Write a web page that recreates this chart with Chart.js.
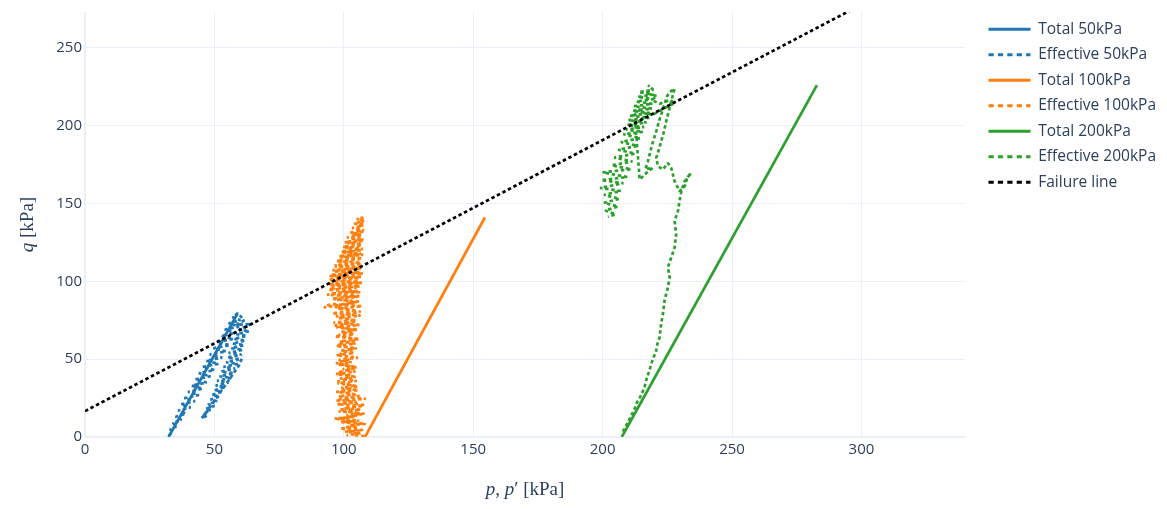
<!DOCTYPE html>
<html>
<head>
<meta charset="utf-8">
<title>Stress paths</title>
<script src="https://cdn.jsdelivr.net/npm/chart.js@4.4.1/dist/chart.umd.min.js"></script>
<style>
  html, body { margin: 0; padding: 0; background: #fff; }
  #wrap { width: 1167px; height: 509px; position: relative; }
</style>
</head>
<body>
<div id="wrap"><canvas id="chart"></canvas></div>
<script>
// Axis ticks
const pTicks = [0, 50, 100, 150, 200, 250, 300];
const qTicks = [0, 50, 100, 150, 200, 250];

// Total stress paths (p, q)
const total50P = [32.3, 59.0];
const total50Q = [0, 79.5];
const total100P = [108.2, 154.5];
const total100Q = [0, 141];
const total200P = [207.4, 282.8];
const total200Q = [0, 226];

// Effective stress paths
const eff50P = [32.3, 33.8, 32.9, 35.6, 33.9, 37.3, 35.0, 39.0, 36.0, 40.8, 37.0, 42.5, 38.4, 44.0, 39.8, 45.5,
  41.2, 47.0, 42.6, 48.5, 44.0, 50.0, 45.4, 51.5, 46.8, 53.0, 48.2, 54.5, 49.6, 56.0, 51.0, 57.3,
  52.6, 58.5, 54.0, 59.5, 55.5, 60.0, 57.0, 59.0,
  61.5, 58.5, 64.4, 59.5, 63.5, 58.5, 62.5, 57.5, 62.0, 57.0, 61.5, 56.5, 61.0, 55.5, 60.5, 55.0,
  60.0, 54.5, 59.0, 53.5, 58.0, 52.5, 57.5, 52.0, 56.5, 51.0, 55.5, 50.5, 54.0, 50.0, 53.0, 49.0,
  52.0, 48.5, 51.0, 47.5, 50.0, 46.5, 48.5, 45.5, 47.5, 45.0,
  47.0, 49.5, 52.0, 54.5, 57.0, 59.5, 61.0];
const eff50Q = [1, 3, 5, 7, 9, 11, 13, 15, 17, 19, 21, 23, 25, 27, 29, 31,
  33, 35, 37, 39, 41, 43, 45, 47, 49, 51, 53, 55, 57, 59, 61, 63,
  65, 67, 69, 71, 73, 75, 77, 79.5,
  75, 72, 72.7, 69, 68, 66, 65, 63, 62, 60, 59, 57, 56, 54, 53, 51,
  50, 48, 47, 45, 44, 42, 41, 39, 38, 36, 35, 33, 32, 30, 29, 27,
  26, 24, 23, 21, 20, 18, 17, 15, 14, 12,
  16, 22, 28, 34, 40, 46, 52];

const eff100P = [108.0, 103.0, 106.5, 100.5, 107.5, 98.5, 105.0, 102.0, 108.5, 99.0, 106.0, 96.5, 104.5, 101.0, 108.0,
  98.0, 106.5, 100.0, 107.5, 97.5, 105.0, 99.5, 108.5, 98.0, 104.0, 97.0, 105.5, 99.0, 104.0, 97.5,
  105.0, 98.5, 103.5, 97.0, 104.5, 99.5, 105.0, 97.5, 103.0, 98.0, 105.5, 97.0, 104.0, 99.0, 105.0,
  97.0, 104.5, 98.5, 106.0, 96.5, 104.0, 99.0, 105.5, 97.0, 106.0, 96.0, 104.5, 98.0, 106.5, 95.5,
  105.0, 97.5, 107.0, 95.0, 92.3, 106.0,
  96.0, 105.5, 93.5, 106.5, 94.0, 105.0, 94.5, 107.0, 95.0, 106.0, 94.5, 107.5, 96.0, 106.5, 96.5,
  107.0, 97.5, 106.0, 98.5, 107.5, 99.5, 106.5, 100.5, 107.0, 101.5, 107.5, 102.5, 106.5, 103.5, 107.5,
  104.5, 107.0, 105.5, 108.0, 106.5, 107.5,
  105.0, 107.8, 104.0, 107.5, 103.2, 107.8, 102.2, 107.2, 101.2, 107.6, 100.4, 107.0, 99.6, 107.4, 98.8,
  106.8, 98.0, 107.2, 97.2, 106.6, 96.4, 107.0, 95.6, 106.4, 95.0, 106.8, 94.2, 105.8, 93.8, 106.2,
  94.4, 105.4, 95.0, 106.0, 95.5,
  104.5, 96.5, 106.5, 97.0, 105.0, 96.5, 104.0, 98.0, 105.5, 97.5, 104.0, 98.5, 103.5, 97.0, 105.0,
  98.0, 104.5, 97.5, 105.5, 98.5, 106.0, 97.0, 108.0, 98.5, 107.0, 97.5, 106.5, 99.5, 105.0, 101.0];
const eff100Q = [0.5, 1.5, 2.5, 3.5, 4.5, 5.5, 6.5, 7.5, 8.5, 9.5, 10.5, 12.0, 13.0, 14.0, 15.0,
  16.5, 17.5, 18.5, 20.0, 21.0, 22.5, 23.5, 24.5, 26.0, 27.5, 29.0, 30.0, 31.5, 33.0, 34.5,
  36.0, 37.5, 39.0, 40.5, 42.0, 43.5, 45.0, 46.5, 48.0, 49.5, 51.0, 52.5, 54.0, 55.5, 57.0,
  58.5, 60.0, 61.5, 63.0, 64.5, 66.0, 67.5, 69.0, 70.5, 72.0, 73.5, 75.0, 76.5, 78.0, 79.5,
  81.0, 82.5, 84.0, 85.5, 83.2, 87.0,
  88.5, 90.0, 91.5, 93.0, 94.5, 96.0, 97.5, 99.0, 100.5, 102.0, 103.5, 105.0, 106.5, 108.0, 109.5,
  111.0, 112.5, 114.0, 115.5, 117.0, 118.5, 120.0, 121.5, 123.0, 124.5, 126.0, 127.5, 129.0, 130.5, 132.0,
  133.5, 135.0, 136.5, 138.0, 139.5, 141.0,
  140.2, 138.8, 137.2, 135.8, 134.2, 132.8, 131.2, 129.8, 128.2, 126.8, 125.2, 123.8, 122.2, 120.8, 119.2,
  117.8, 116.2, 114.8, 113.2, 111.8, 110.2, 108.8, 107.2, 105.8, 104.2, 102.8, 101.2, 99.8, 98.2, 96.8,
  95.2, 93.8, 92.2, 90.5, 89.0,
  86.5, 83.5, 80.5, 77.5, 74.5, 71.5, 68.5, 65.5, 62.5, 59.5, 56.5, 53.5, 50.5, 47.5, 44.5,
  41.5, 38.5, 35.5, 32.5, 29.5, 26.5, 23.5, 20.5, 17.5, 14.5, 11.5, 8.5, 5.5, 2.5, 1.0];

const eff200P = [207.8, 209.8, 212.4, 213.2, 214.9, 216.2, 217.0, 218.1, 218.8, 220.7, 221.2, 222.0, 222.6, 223.3,
  223.9, 225.2, 225.9, 225.2, 226.5, 227.8, 228.4, 227.8, 229.1, 229.7, 230.4, 231.7, 233.6, 234.2,
  232.6, 231.7, 229.7, 228.8, 227.8, 226.5, 225.2, 223.3, 221.4,
  220.7, 221.8, 222.8, 223.8, 224.6, 225.5, 226.4, 227.8,
  225.5, 224.6, 223.4, 222.0, 220.8, 219.6, 218.5, 217.5, 216.5, 219.4, 217.5, 215.6, 214.3,
  212.4, 214.5, 216.2, 219.4, 222.6, 225.2, 227.8, 226.0, 222.0, 219.0, 221.0, 216.5, 219.5, 217.5,
  219.5, 214.0, 219.5, 213.5, 219.5, 213.0, 219.2, 212.0, 219.0, 211.5, 218.5, 210.5, 218.0, 210.0,
  217.0, 209.5, 216.0, 209.0, 215.5, 208.0, 214.5, 207.0, 213.5, 206.0, 212.5, 204.5, 211.5, 203.5,
  211.0, 200.0, 209.5, 199.5, 208.0, 199.0, 207.0, 200.5, 206.5, 200.5, 206.0, 201.0, 205.0, 202.0];
const eff200Q = [3.4, 9.5, 18.3, 22.0, 26.9, 32.2, 37.5, 42.8, 47.1, 55.6, 60.0, 64.1, 72.7, 79.1,
  87.6, 96.1, 102.5, 108.9, 115.3, 121.7, 130.2, 138.7, 145.1, 151.5, 157.9, 164.3, 168.6, 169.6,
  166.0, 161.0, 157.9, 161.0, 164.3, 172.8, 176.0, 171.8, 173.9,
  179.2, 185.0, 191.0, 197.0, 203.0, 209.0, 215.0, 223.8,
  221.0, 217.6, 211.0, 204.0, 197.0, 190.5, 184.0, 177.1, 172.0, 172.8, 170.7, 167.5, 165.4,
  207.0, 210.5, 208.0, 207.0, 210.1, 212.3, 214.4, 216.5, 214.0, 216.5, 219.0, 221.0, 223.0, 226.0,
  223.0, 221.5, 220.0, 218.5, 217.0, 215.5, 214.0, 212.5, 211.0, 209.5, 208.0, 206.5, 205.0, 203.5,
  202.0, 200.5, 199.0, 197.5, 196.0, 194.5, 192.0, 189.5, 187.0, 184.5, 182.0, 179.5, 177.0, 174.5,
  172.0, 170.0, 167.0, 165.0, 163.0, 160.0, 158.0, 155.5, 153.0, 150.5, 148.0, 145.5, 143.0, 141.5];

// Failure line end points
const failP = [0, 340];
const failQ = [16.6, 312.6];

const BLUE = '#1f77b4', ORANGE = '#ff7f0e', GREEN = '#2ca02c', BLACK = '#000000';
const TEXT = '#2a3f5f', GRID = '#ebf0f8';
const DOT = [3.5, 2.7];
const LEGEND_DOT = [5.2, 4.2];

function pts(P, Q) {
  return P.map((p, i) => ({ x: p, y: Q[i] }));
}

function series(label, P, Q, color, dashed, order) {
  return {
    label: label,
    data: pts(P, Q),
    showLine: true,
    borderColor: color,
    backgroundColor: color,
    borderWidth: 2.7,
    borderDash: dashed ? DOT : [],
    borderCapStyle: 'butt',
    borderJoinStyle: 'bevel',
    pointRadius: 0,
    pointHoverRadius: 0,
    tension: 0,
    order: order
  };
}

// Axis titles drawn with italic symbols like the LaTeX ones
const xTitleParts = [['p', true], [', ', false], ['p', true], ['\u2032 [kPa]', false]];
const yTitleParts = [['q', true], [' [kPa]', false]];

function drawParts(ctx, parts, cx, cy, rot) {
  ctx.save();
  ctx.translate(cx, cy);
  ctx.rotate(rot);
  ctx.fillStyle = TEXT;
  ctx.textBaseline = 'middle';
  const fontOf = p => (p[1] ? 'italic ' : '') + '19px "Liberation Serif", "DejaVu Serif", serif';
  let w = 0;
  parts.forEach(p => { ctx.font = fontOf(p); w += ctx.measureText(p[0]).width; });
  let x = -w / 2;
  parts.forEach(p => {
    ctx.font = fontOf(p);
    ctx.fillText(p[0], x, 0);
    x += ctx.measureText(p[0]).width;
  });
  ctx.restore();
}

const mathTitles = {
  id: 'mathTitles',
  afterDraw(chart) {
    const a = chart.chartArea;
    drawParts(chart.ctx, xTitleParts, (a.left + a.right) / 2, 490, 0);
    drawParts(chart.ctx, yTitleParts, 28, (a.top + a.bottom) / 2, -Math.PI / 2);
  }
};

// Leave a gap between plot and legend, like plotly does
const legendGap = {
  id: 'legendGap',
  beforeLayout(chart) {
    const lg = chart.legend;
    if (lg && !lg._gapPatched) {
      const fit = lg.fit.bind(lg);
      lg.fit = function () { fit(); this.width = 202; };
      lg._gapPatched = true;
    }
  },
  afterLayout(chart) {
    const lg = chart.legend;
    if (lg) {
      lg.left += 13.5;
      lg.top += 1.5;
    }
  }
};

const ctx = document.getElementById('chart').getContext('2d');
new Chart(ctx, {
  type: 'scatter',
  data: {
    datasets: [
      series('Total 50kPa', total50P, total50Q, BLUE, false, 6),
      series('Effective 50kPa', eff50P, eff50Q, BLUE, true, 5),
      series('Total 100kPa', total100P, total100Q, ORANGE, false, 4),
      series('Effective 100kPa', eff100P, eff100Q, ORANGE, true, 3),
      series('Total 200kPa', total200P, total200Q, GREEN, false, 2),
      series('Effective 200kPa', eff200P, eff200Q, GREEN, true, 1),
      series('Failure line', failP, failQ, BLACK, true, 0)
    ]
  },
  options: {
    responsive: true,
    maintainAspectRatio: false,
    animation: false,
    layout: { padding: { top: 10, left: 0, right: 0, bottom: 0 } },
    scales: {
      x: {
        type: 'linear',
        min: 0,
        max: 340,
        afterBuildTicks: s => { s.ticks = pTicks.map(v => ({ value: v })); },
        afterFit: s => { s.height = 72; },
        ticks: {
          color: TEXT,
          padding: 4,
          maxRotation: 0,
          font: { family: 'Open Sans', size: 15 }
        },
        grid: {
          color: GRID,
          lineWidth: c => (c.tick && c.tick.value === 0 ? 2 : 1),
          drawTicks: false
        },
        border: { display: false }
      },
      y: {
        type: 'linear',
        min: 0,
        max: 273,
        afterBuildTicks: s => { s.ticks = qTicks.map(v => ({ value: v })); },
        afterFit: s => { s.width = 85; },
        ticks: {
          color: TEXT,
          padding: 3,
          font: { family: 'Open Sans', size: 15 }
        },
        grid: {
          color: GRID,
          lineWidth: c => (c.tick && c.tick.value === 0 ? 2 : 1),
          drawTicks: false
        },
        border: { display: false }
      }
    },
    plugins: {
      tooltip: { enabled: false },
      legend: {
        position: 'right',
        align: 'start',
        labels: {
          usePointStyle: true,
          pointStyle: 'line',
          pointStyleWidth: 42,
          boxHeight: 15.5,
          padding: 10,
          color: TEXT,
          font: { family: 'Open Sans', size: 15.5 },
          generateLabels: chart => chart.data.datasets.map((ds, i) => ({
            text: ds.label,
            datasetIndex: i,
            fillStyle: ds.borderColor,
            strokeStyle: ds.borderColor,
            fontColor: TEXT,
            lineWidth: 2.8,
            lineCap: 'butt',
            lineDash: ds.borderDash.length ? LEGEND_DOT : [],
            pointStyle: 'line',
            hidden: false
          }))
        }
      }
    }
  },
  plugins: [mathTitles, legendGap]
});
</script>
</body>
</html>
